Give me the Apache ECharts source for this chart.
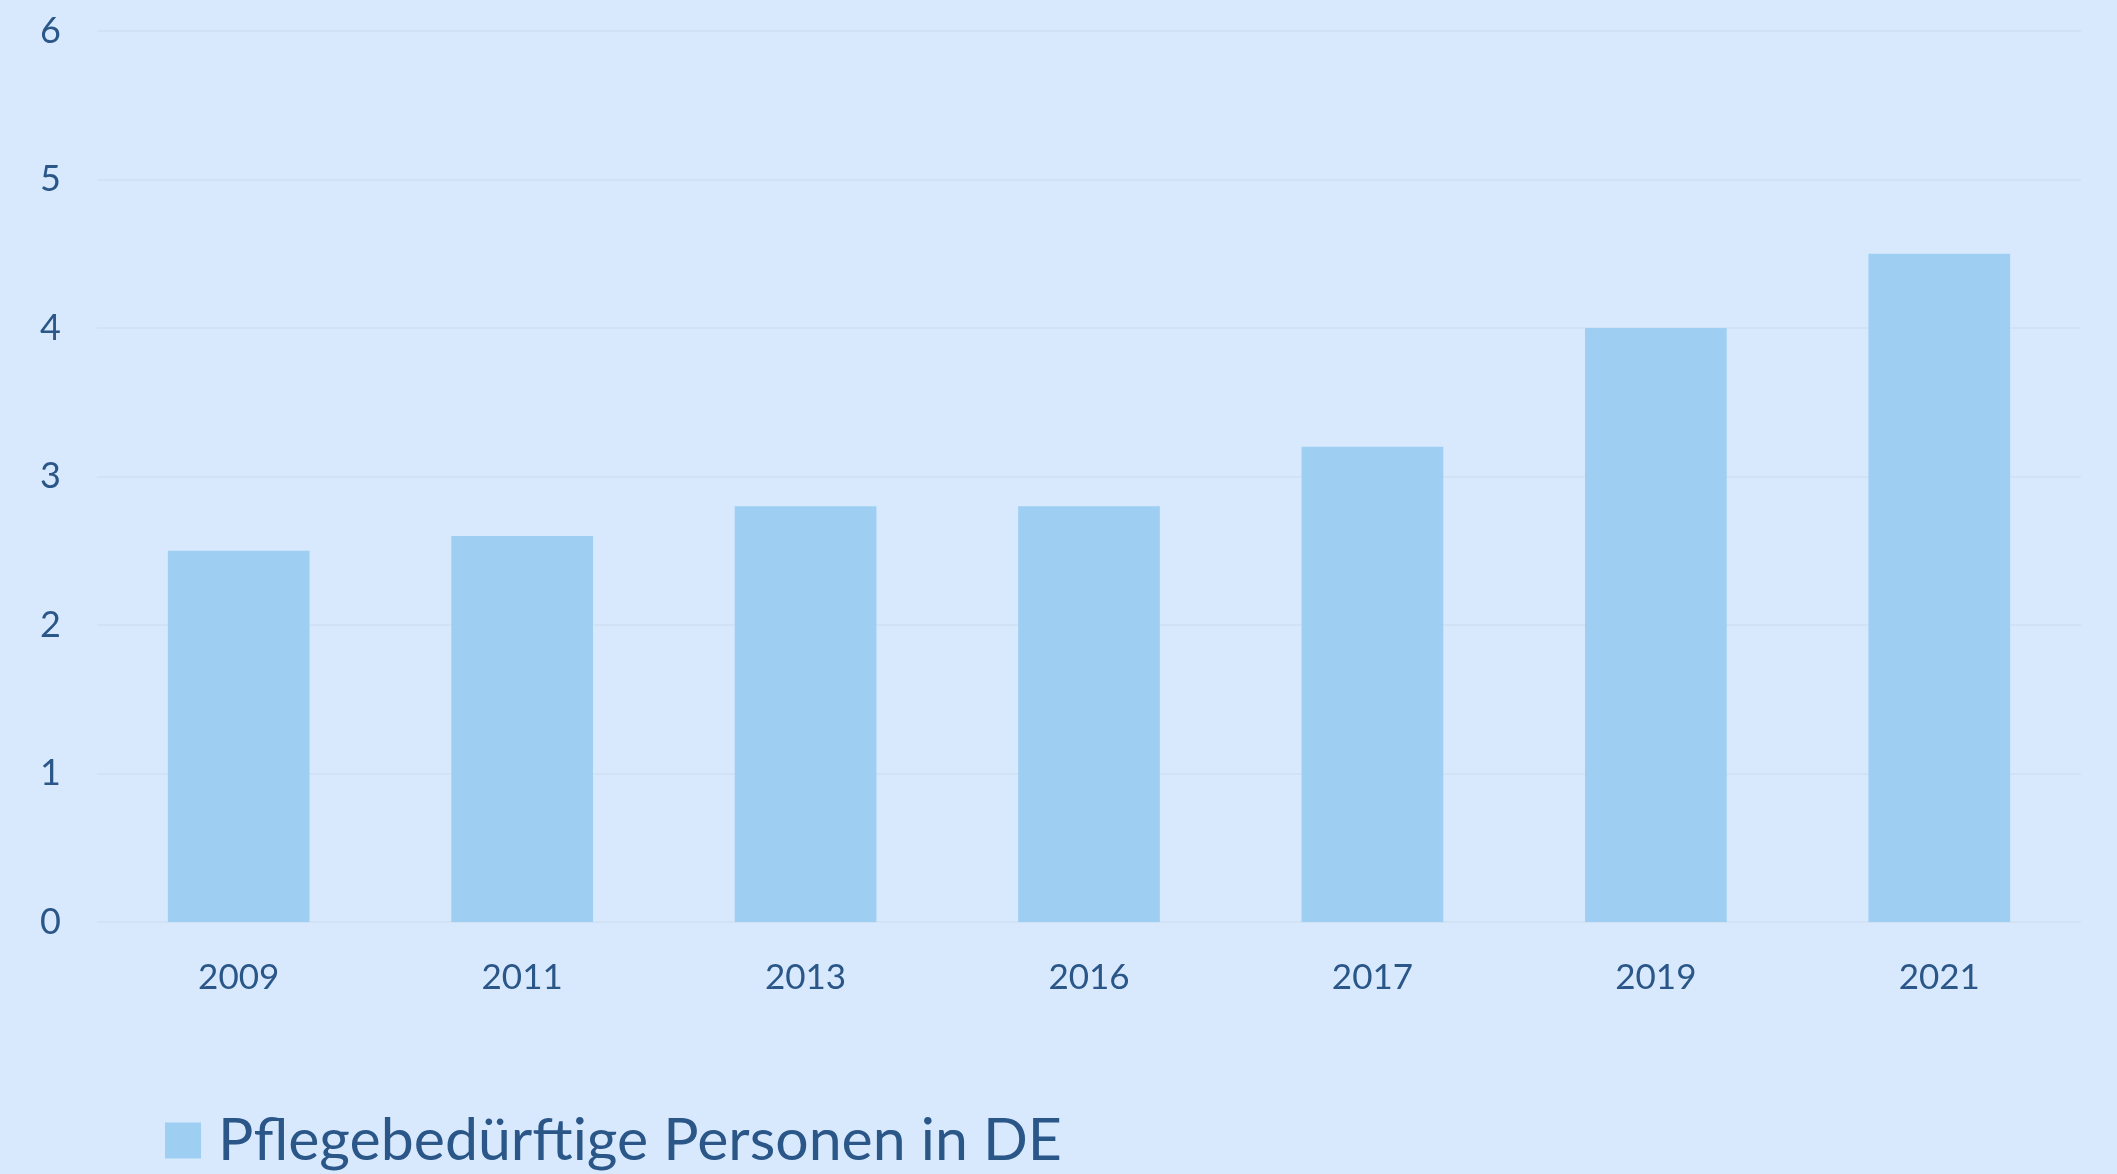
<!DOCTYPE html>
<html>
<head>
<meta charset="utf-8">
<script src="https://cdn.jsdelivr.net/npm/echarts@6/dist/echarts.min.js"></script>
<style>
  html, body { margin: 0; padding: 0; background: #d8e9fe; }
  #chart { width: 2117px; height: 1174px; }
</style>
</head>
<body>
<div id="chart"></div>
<script>
// Pflegebedürftige Personen in Deutschland (Mio.)
const years = ['2009', '2011', '2013', '2016', '2017', '2019', '2021']
const persons = [2.5, 2.6, 2.8, 2.8, 3.2, 4.0, 4.5]
const seriesName = 'Pflegebedürftige Personen in DE'

const textColor = '#2a5688'
const barColor = '#9ecff3'

const chart = echarts.init(document.getElementById('chart'))
const option = {
  backgroundColor: '#d8e9fe',
  textStyle: { fontFamily: 'Lato' },
  grid: {
    left: 97,
    right: 36,
    top: 31,
    bottom: 252,
  },
  legend: {
    left: 160,
    top: 1106,
    itemWidth: 36,
    itemHeight: 36,
    itemGap: 16,
    icon: 'rect',
    textStyle: {
      fontFamily: 'Lato',
      fontSize: 59,
      color: textColor,
      padding: [0, 0, 0, 12],
    },
    data: [seriesName]
  },
  xAxis: {
    type: 'category',
    data: years,
    axisLine: { show: false },
    axisTick: { show: false },
    axisLabel: {
      margin: 38,
      fontSize: 35,
      color: textColor,
      fontFamily: 'Lato',
    }
  },
  yAxis: {
    type: 'value',
    min: 0,
    max: 6,
    interval: 1,
    axisLabel: {
      margin: 36,
      fontSize: 36,
      color: textColor,
      fontFamily: 'Lato',
    },
    splitLine: {
      lineStyle: { color: '#d2e2f5', width: 2 }
    }
  },
  series: [
    {
      name: seriesName,
      type: 'bar',
      barWidth: '50%',
      itemStyle: { color: barColor },
      data: persons
    }
  ]
}
chart.setOption(option)
</script>
</body>
</html>
